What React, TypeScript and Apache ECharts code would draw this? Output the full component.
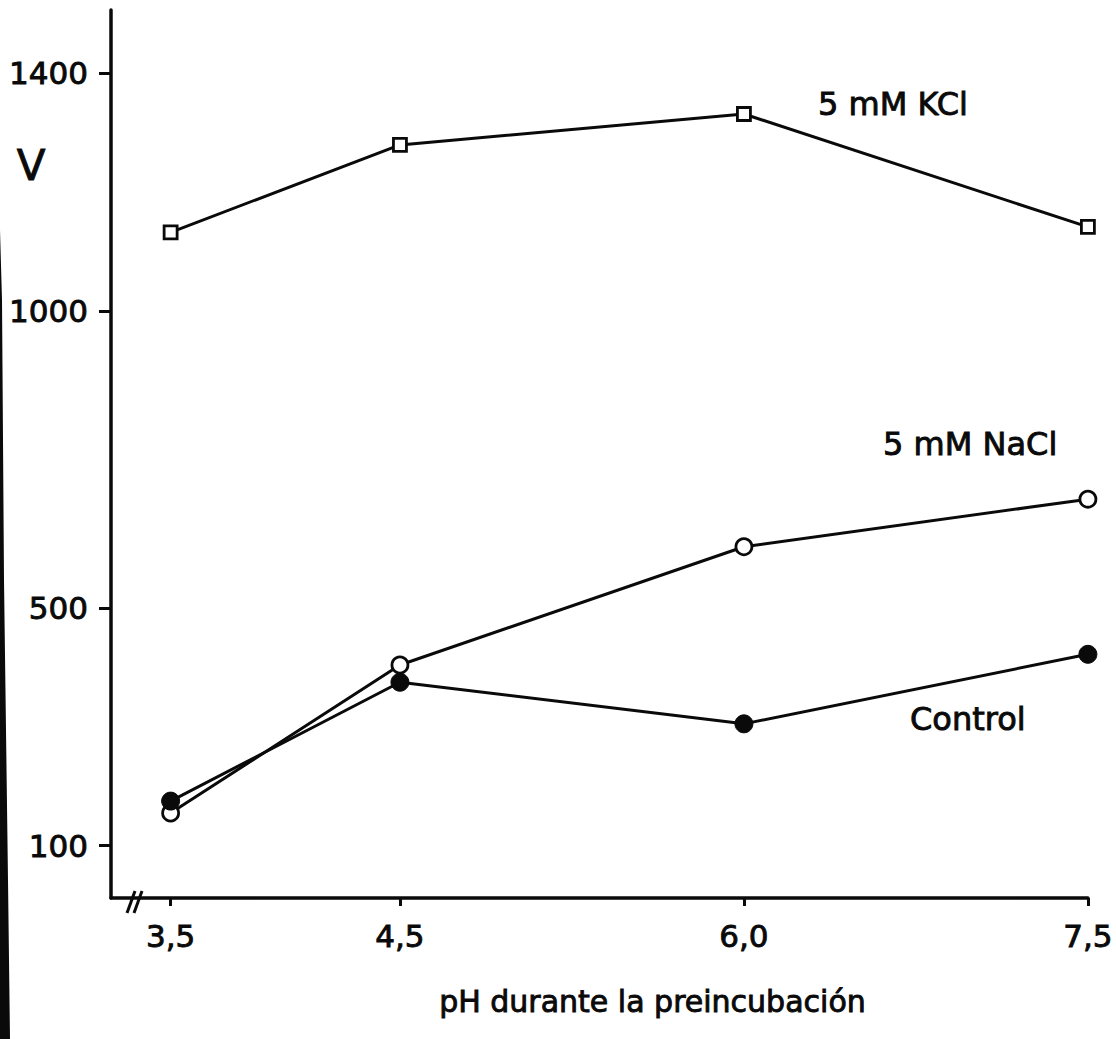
import React, { useEffect, useRef } from "react";
import * as echarts from "echarts";

const xTicks = [3.5, 4.5, 6.0, 7.5];
const yTicks = [100, 500, 1000, 1400];
const kclValues = [1132, 1279, 1331, 1141];
const naclValues = [155, 404, 603, 683];
const controlValues = [175, 375, 305, 422];
const seriesNames = ["5 mM KCl", "5 mM NaCl", "Control"];
const xTitle = "pH durante la preincubación";
const yTitle = "V";

const FONT = "DejaVu Sans";
const INK = "#0a0a0a";
const TB = 0.9;

export default function App() {
  const ref = useRef<HTMLDivElement>(null);
  useEffect(() => {
    if (!ref.current) return;
    const chart = echarts.init(ref.current, null, { renderer: "svg" });
    const pairs = (vals: number[]) => xTicks.map((x, i) => [x, vals[i]]);
    const labelText = (text: string, x: number, y: number, size: number, align = "left") => ({
      type: "text",
      x,
      y,
      style: {
        text,
        fontFamily: FONT,
        fontSize: size,
        fill: INK,
        stroke: INK,
        lineWidth: TB,
        align,
        verticalAlign: "middle",
      },
    });
    chart.setOption({
      animation: false,
      backgroundColor: "#ffffff",
      grid: { left: 111, right: 28, top: 10, bottom: 141, containLabel: false },
      xAxis: {
        type: "value",
        min: 3.24,
        max: 7.5,
        name: xTitle,
        nameLocation: "middle",
        nameGap: 88,
        nameTextStyle: {
          fontFamily: FONT,
          fontSize: 30,
          color: INK,
          textBorderColor: INK,
          textBorderWidth: TB,
          padding: [0, 0, 0, 106],
        },
        axisLine: { show: true, onZero: false, lineStyle: { color: INK, width: 3.5 } },
        axisTick: { show: true, length: 8, customValues: xTicks, lineStyle: { color: INK, width: 3 } },
        axisLabel: {
          show: true,
          customValues: xTicks,
          margin: 22,
          fontFamily: FONT,
          fontSize: 31,
          color: INK,
          textBorderColor: INK,
          textBorderWidth: TB,
          formatter: (v: number) => v.toFixed(1).replace(".", ","),
        },
        splitLine: { show: false },
      },
      yAxis: {
        type: "value",
        min: 12,
        max: 1506,
        axisLine: { show: true, onZero: false, lineStyle: { color: INK, width: 3.5 } },
        axisTick: { show: true, length: 12, customValues: yTicks, lineStyle: { color: INK, width: 3 } },
        axisLabel: {
          show: true,
          customValues: yTicks,
          margin: 23,
          fontFamily: FONT,
          fontSize: 31,
          color: INK,
          textBorderColor: INK,
          textBorderWidth: TB,
          formatter: (v: number) => String(v),
        },
        splitLine: { show: false },
      },
      series: [
        {
          name: seriesNames[0],
          type: "line",
          data: pairs(kclValues),
          symbol: "rect",
          symbolSize: 13,
          lineStyle: { color: INK, width: 3 },
          itemStyle: { color: "#ffffff", borderColor: INK, borderWidth: 2.8 },
        },
        {
          name: seriesNames[1],
          type: "line",
          data: pairs(naclValues),
          symbol: "circle",
          symbolSize: 16,
          lineStyle: { color: INK, width: 3 },
          itemStyle: { color: "#ffffff", borderColor: INK, borderWidth: 2.8 },
        },
        {
          name: seriesNames[2],
          type: "line",
          data: pairs(controlValues),
          symbol: "circle",
          symbolSize: 18,
          lineStyle: { color: INK, width: 3 },
          itemStyle: { color: INK, borderColor: INK, borderWidth: 1 },
        },
      ],
      graphic: [
        labelText(seriesNames[0], 818, 104, 32),
        labelText(seriesNames[1], 883, 444, 32),
        labelText(seriesNames[2], 910, 719, 32),
        labelText(yTitle, 31, 165, 42, "center"),
        {
          type: "line",
          z: 100,
          shape: { x1: 127, y1: 913, x2: 135, y2: 891 },
          style: { stroke: INK, lineWidth: 3 },
        },
        {
          type: "line",
          z: 100,
          shape: { x1: 134, y1: 913, x2: 142, y2: 891 },
          style: { stroke: INK, lineWidth: 3 },
        },
        {
          type: "polygon",
          z: 100,
          shape: { points: [[0, 230], [2, 300], [4, 580], [8, 880], [10, 1039], [0, 1039]] },
          style: { fill: INK },
        },
      ],
    });
    return () => chart.dispose();
  }, []);
  return <div ref={ref} style={{ width: 1116, height: 1039, position: "absolute", left: 0, top: 0 }} />;
}
